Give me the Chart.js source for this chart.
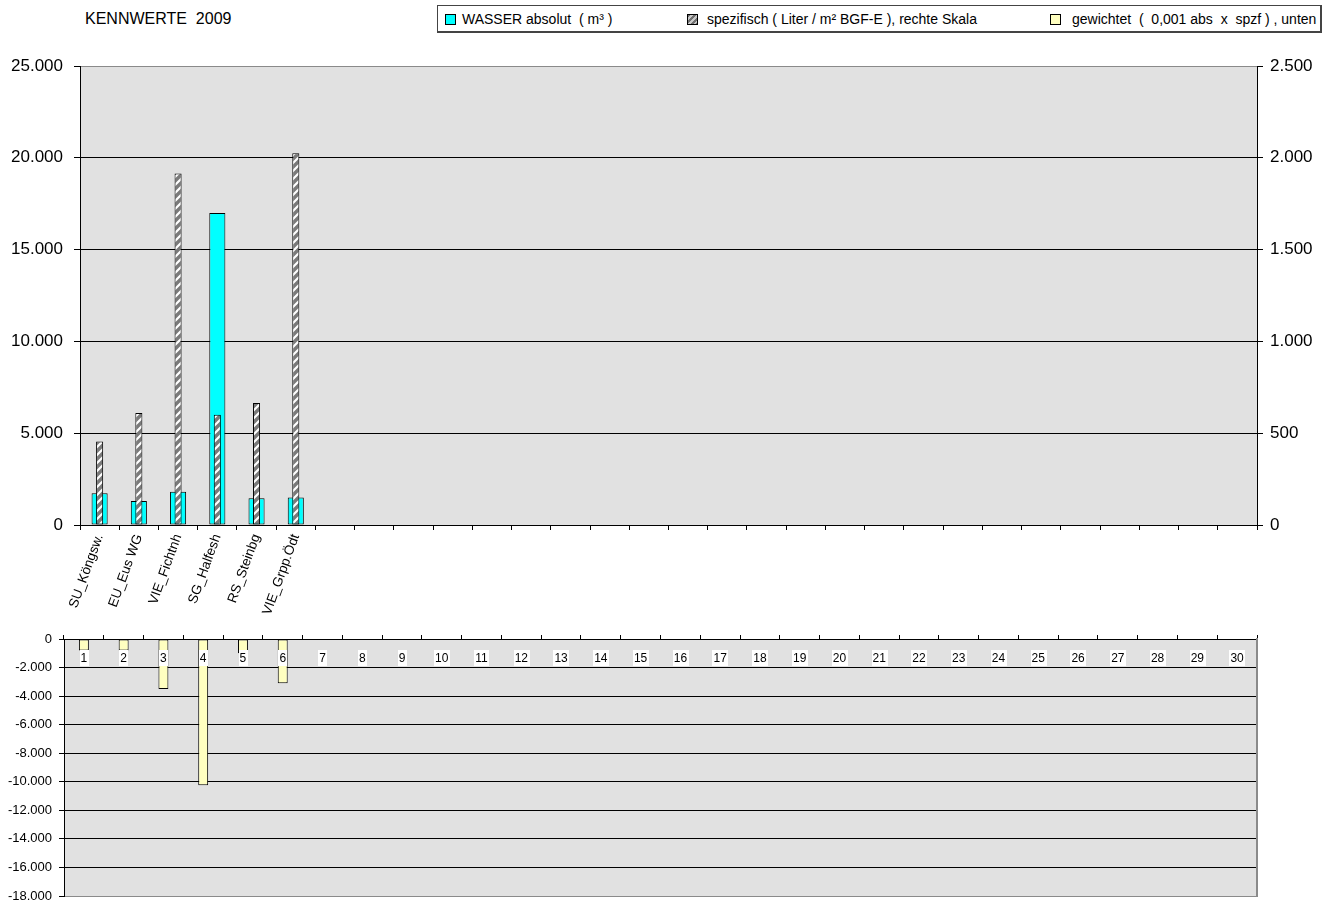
<!DOCTYPE html>
<html>
<head>
<meta charset="utf-8">
<script src="https://cdn.jsdelivr.net/npm/chart.js@4.4.0/dist/chart.umd.min.js"></script>
<style>
  body { margin: 0; background: #fff; width: 1337px; height: 904px; overflow: hidden; position: relative;
         font-family: 'Liberation Sans', Arial, sans-serif; color: #000; }
  #title { position: absolute; left: 85px; top: 10px; font-size: 16px; white-space: pre; }
  #legend { position: absolute; left: 437px; top: 5px; width: 885px; height: 28px; box-sizing: border-box;
            border: 1px solid #444; border-right-width: 2px; border-bottom-width: 2px; }
  .item { position: absolute; top: 5px; font-size: 14px; white-space: pre; line-height: 16px; }
  .sw { position: absolute; top: 8px; width: 9px; height: 9px; border: 1px solid #000; }
  #cTop { position: absolute; left: 0; top: 40px; }
  #cBottom { position: absolute; left: 0; top: 620px; }
</style>
</head>
<body>
<div id="title">KENNWERTE  2009</div>
<div id="legend">
  <div class="sw" style="left:7px;background:#00FFFF"></div>
  <div class="item" style="left:24px">WASSER absolut  ( m³ )</div>
  <div class="sw" style="left:249px;background:repeating-linear-gradient(135deg,#707070 0 2px,#c8c8c8 2px 4px)"></div>
  <div class="item" style="left:269px">spezifisch ( Liter / m² BGF-E ), rechte Skala</div>
  <div class="sw" style="left:612px;background:#FFFFC0"></div>
  <div class="item" style="left:634px">gewichtet  (  0,001 abs  x  spzf ) , unten</div>
</div>
<canvas id="cTop" width="1337" height="580"></canvas>
<canvas id="cBottom" width="1337" height="284"></canvas>
<script>
// Sites (top chart, 30 slots)
const siteLabels = ['SU_Köngsw.', 'EU_Eus WG', 'VIE_Fichtnh', 'SG_Halfesh', 'RS_Steinbg', 'VIE_Grpp.Ödt',
  '', '', '', '', '', '', '', '', '', '', '', '', '', '', '', '', '', '', '', '', '', '', '', ''];
// Running numbers (bottom chart)
const siteNumbers = ['1', '2', '3', '4', '5', '6', '7', '8', '9', '10', '11', '12', '13', '14', '15',
  '16', '17', '18', '19', '20', '21', '22', '23', '24', '25', '26', '27', '28', '29', '30'];

// Water consumption, absolute (m³) – left scale
const wasserAbsolut = [1730, 1310, 1810, 17000, 1460, 1500];
// Specific consumption (litre / m² BGF-E) – right scale
const spezifisch = [455, 610, 1915, 600, 665, 2025];
// Weighted value (0,001 abs x spzf), drawn downwards
const gewichtet = [-800, -800, -3500, -10250, -1000, -3100];

// Axis ranges
const leftTicks = { min: 0, max: 25000, step: 5000 };
const rightTicks = { min: 0, max: 2500, step: 500 };
const lowerTicks = { min: -18000, max: 0, step: 2000 };

const FONT = "'Liberation Sans', Arial, sans-serif";
Chart.defaults.font.family = FONT;
Chart.defaults.color = '#000';

function fmtDE(v) {
  const s = Math.abs(Math.round(v)).toString().replace(/\B(?=(\d{3})+(?!\d))/g, '.');
  return (v < 0 ? '-' : '') + s;
}

// grey plot-area fill
const plotBackground = {
  id: 'plotBackground',
  beforeDraw(chart) {
    const { ctx, chartArea: a } = chart;
    ctx.save();
    ctx.fillStyle = '#E1E1E1';
    ctx.fillRect(a.left, a.top, a.right - a.left, a.bottom - a.top);
    ctx.restore();
  }
};

// keep the plot edges fixed, independent of end-label overhang
function noLabelOverhang(s) {
  s.paddingTop = 0;
  s.paddingBottom = 0;
}

// diagonal white-on-grey hatch for the specific series
function makeHatch() {
  const c = document.createElement('canvas');
  c.width = 8; c.height = 8;
  const g = c.getContext('2d');
  g.fillStyle = '#7a7a7a';
  g.fillRect(0, 0, 8, 8);
  g.strokeStyle = '#ffffff';
  g.lineWidth = 2.2;
  g.beginPath();
  g.moveTo(-2, 10); g.lineTo(10, -2);
  g.moveTo(-2, 2); g.lineTo(2, -2);
  g.moveTo(6, 10); g.lineTo(10, 6);
  g.stroke();
  return g.createPattern(c, 'repeat');
}

new Chart(document.getElementById('cTop'), {
  type: 'bar',
  data: {
    labels: siteLabels,
    datasets: [
      { label: 'spezifisch ( Liter / m² BGF-E ), rechte Skala', data: spezifisch, yAxisID: 'yR',
        backgroundColor: makeHatch(), borderColor: '#000', borderWidth: 1, borderSkipped: false,
        barPercentage: 0.18, categoryPercentage: 1, grouped: false, order: 0 },
      { label: 'WASSER absolut ( m³ )', data: wasserAbsolut, yAxisID: 'yL',
        backgroundColor: '#00FFFF', borderColor: '#000', borderWidth: 1, borderSkipped: false,
        barPercentage: 0.41, categoryPercentage: 1, grouped: false, order: 1 }
    ]
  },
  options: {
    responsive: false, animation: false, devicePixelRatio: 1,
    layout: { padding: { top: 26, left: 0, right: 0, bottom: 0 } },
    plugins: { legend: { display: false }, tooltip: { enabled: false } },
    scales: {
      x: {
        grid: { offset: true, drawOnChartArea: false, drawTicks: true, tickLength: 5, color: '#000' },
        border: { color: '#000' },
        ticks: { autoSkip: false, minRotation: 70, maxRotation: 70, font: { size: 13.5 }, color: '#000', padding: 2 },
        afterFit: s => { s.height = 95; }
      },
      yL: {
        position: 'left', min: leftTicks.min, max: leftTicks.max,
        ticks: { stepSize: leftTicks.step, callback: fmtDE, font: { size: 17 }, color: '#000', padding: 11 },
        grid: { color: c => (c.tick && c.tick.value === leftTicks.max) ? '#8a8a8a' : '#000', tickLength: 6, tickColor: '#000' },
        border: { color: '#000' },
        afterFit: s => { s.width = 80; noLabelOverhang(s); }
      },
      yR: {
        position: 'right', min: rightTicks.min, max: rightTicks.max,
        ticks: { stepSize: rightTicks.step, callback: fmtDE, font: { size: 17 }, color: '#000', padding: 7 },
        grid: { drawOnChartArea: false, tickLength: 6, color: '#000' },
        border: { color: '#000' },
        afterFit: s => { s.width = 80; noLabelOverhang(s); }
      }
    }
  },
  plugins: [plotBackground]
});

// running numbers drawn just below the zero line, on a white backdrop
const insideLabels = {
  id: 'insideLabels',
  afterDatasetsDraw(chart) {
    const { ctx, scales } = chart;
    const x = scales.x, y = scales.y;
    const yPix = y.getPixelForValue(0) + 19;
    ctx.save();
    ctx.font = '12px ' + FONT;
    ctx.textAlign = 'center';
    ctx.textBaseline = 'middle';
    siteNumbers.forEach((t, i) => {
      const xp = x.getPixelForValue(i);
      const w = ctx.measureText(t).width + 2;
      ctx.fillStyle = '#fff';
      ctx.fillRect(Math.round(xp - w / 2), yPix - 8, Math.ceil(w), 16);
      ctx.fillStyle = '#000';
      ctx.fillText(t, xp, yPix + 1);
    });
    ctx.restore();
  }
};

new Chart(document.getElementById('cBottom'), {
  type: 'bar',
  data: {
    labels: siteNumbers,
    datasets: [
      { label: 'gewichtet ( 0,001 abs x spzf ) , unten', data: gewichtet,
        backgroundColor: '#FFFFC0', borderColor: '#000', borderWidth: 1, borderSkipped: false,
        barPercentage: 0.25, categoryPercentage: 1 }
    ]
  },
  options: {
    responsive: false, animation: false, devicePixelRatio: 1,
    layout: { padding: { top: 15, left: 0, right: 0, bottom: 8 } },
    plugins: { legend: { display: false }, tooltip: { enabled: false } },
    scales: {
      x: {
        position: 'top',
        grid: { offset: true, drawOnChartArea: false, drawTicks: true, tickLength: 4, color: '#000' },
        border: { color: '#000' },
        ticks: { display: false }
      },
      y: {
        position: 'left', min: lowerTicks.min, max: lowerTicks.max,
        ticks: { stepSize: lowerTicks.step, callback: fmtDE, font: { size: 13 }, color: '#000', padding: 7 },
        grid: { color: c => (c.tick && c.tick.value === lowerTicks.min) ? '#8a8a8a' : '#000', tickLength: 5, tickColor: '#000' },
        border: { color: '#000' },
        afterFit: s => { s.width = 64; noLabelOverhang(s); }
      },
      yEdge: {
        position: 'right', min: 0, max: 1,
        ticks: { display: false },
        grid: { drawOnChartArea: false, drawTicks: false },
        border: { color: '#8a8a8a', width: 2 },
        afterFit: s => { s.width = 80; noLabelOverhang(s); }
      }
    }
  },
  plugins: [plotBackground, insideLabels]
});
</script>
</body>
</html>
